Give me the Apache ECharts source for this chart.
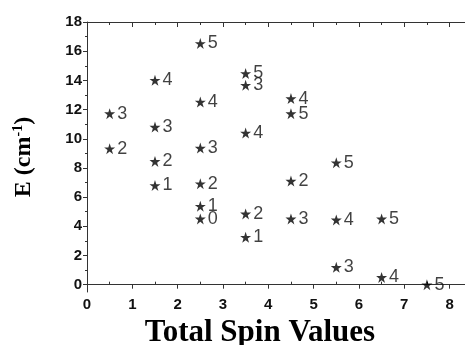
<!DOCTYPE html>
<html>
<head>
<meta charset="utf-8">
<script src="https://cdn.jsdelivr.net/npm/echarts@6/dist/echarts.min.js"></script>
<style>
  html, body { margin: 0; padding: 0; background: #fff; }
  #chart { width: 465px; height: 345px; }
</style>
</head>
<body>
<div id="chart"></div>
<script>
// total spin (x), energy in cm-1 (y), level label
let spins    = [0.5, 0.5, 1.5, 1.5, 1.5, 1.5, 2.5, 2.5, 2.5, 2.5, 2.5, 2.5, 3.5, 3.5, 3.5, 3.5, 3.5, 4.5, 4.5, 4.5, 4.5, 5.5, 5.5, 5.5, 6.5, 6.5, 7.5];
let energies = [11.72, 9.32, 14.01, 10.8, 8.45, 6.8, 16.53, 12.52, 9.36, 6.92, 5.38, 4.51, 14.47, 13.67, 10.39, 4.85, 3.25, 12.75, 11.72, 7.1, 4.51, 8.36, 4.44, 1.19, 4.51, 0.5, 0.0];
let levels   = ['3', '2', '4', '3', '2', '1', '5', '4', '3', '2', '1', '0', '5', '3', '4', '2', '1', '4', '5', '2', '3', '5', '4', '3', '5', '4', '5'];

let xMajor = [0, 1, 2, 3, 4, 5, 6, 7, 8];
let xMinor = [0.5, 1.5, 2.5, 3.5, 4.5, 5.5, 6.5, 7.5];
let yMajor = [0, 2, 4, 6, 8, 10, 12, 14, 16, 18];
let yMinor = [1, 3, 5, 7, 9, 11, 13, 15, 17];

let star = 'path://M50,0 L61.8,35.5 L99,35.5 L69,57.5 L80.4,93 L50,71 L19.6,93 L31,57.5 L1,35.5 L38.2,35.5 Z';

let points = spins.map(function(s, i){ return [s, energies[i], levels[i]]; });

let lineCol = '#333';
let xRange = {min: 0, max: 8.34};
let yRange = {min: -0.5, max: 18};

let chart = echarts.init(document.getElementById('chart'), null, {renderer: 'canvas'});

chart.setOption({
  animation: false,
  grid: {left: 87, right: 0, top: 22, bottom: 53, outerBoundsMode: 'none', containLabel: false},
  xAxis: [
    {
      type: 'value', position: 'bottom', min: xRange.min, max: xRange.max,
      name: 'Total Spin Values', nameLocation: 'middle', nameGap: 25,
      nameTextStyle: {fontFamily: 'Liberation Serif', fontWeight: 'bold', fontSize: 31, color: '#000', padding: [0, 32, 0, 0]},
      axisLine: {show: true, lineStyle: {color: lineCol, width: 1}},
      axisTick: {show: true, inside: false, length: 4, customValues: xMajor, lineStyle: {color: lineCol}},
      axisLabel: {customValues: xMajor, fontFamily: 'Liberation Sans', fontWeight: 'bold', fontSize: 15, color: '#111', margin: 5},
      splitLine: {show: false}
    },
    {
      type: 'value', position: 'bottom', min: xRange.min, max: xRange.max,
      axisLine: {show: false},
      axisTick: {show: true, inside: true, length: 3, customValues: xMinor, lineStyle: {color: lineCol}},
      axisLabel: {show: false},
      splitLine: {show: false}
    },
    {
      type: 'value', position: 'top', min: xRange.min, max: xRange.max,
      axisLine: {show: true, lineStyle: {color: lineCol, width: 1}},
      axisTick: {show: true, inside: true, length: 5, customValues: xMajor, lineStyle: {color: lineCol}},
      axisLabel: {show: false},
      splitLine: {show: false}
    },
    {
      type: 'value', position: 'top', min: xRange.min, max: xRange.max,
      axisLine: {show: false},
      axisTick: {show: true, inside: true, length: 3, customValues: xMinor, lineStyle: {color: lineCol}},
      axisLabel: {show: false},
      splitLine: {show: false}
    }
  ],
  yAxis: [
    {
      type: 'value', position: 'left', min: yRange.min, max: yRange.max,
      name: 'E (cm{sup|-1})', nameLocation: 'middle', nameGap: 50, nameRotate: 90,
      nameTextStyle: {
        fontFamily: 'Liberation Serif', fontWeight: 'bold', fontSize: 24, color: '#000',
        rich: {sup: {fontFamily: 'Liberation Serif', fontWeight: 'bold', fontSize: 14, color: '#000', verticalAlign: 'top', padding: [0, 0, 12, 0]}}
      },
      axisLine: {show: true, lineStyle: {color: lineCol, width: 1}},
      axisTick: {show: true, inside: false, length: 4, customValues: yMajor, lineStyle: {color: lineCol}},
      axisLabel: {customValues: yMajor, fontFamily: 'Liberation Sans', fontWeight: 'bold', fontSize: 15, color: '#111', margin: 5},
      splitLine: {show: false}
    },
    {
      type: 'value', position: 'left', min: yRange.min, max: yRange.max,
      axisLine: {show: false},
      axisTick: {show: true, inside: false, length: 2, customValues: yMinor, lineStyle: {color: lineCol}},
      axisLabel: {show: false},
      splitLine: {show: false}
    }
  ],
  series: [{
    type: 'scatter',
    xAxisIndex: 0, yAxisIndex: 0,
    symbol: star,
    symbolSize: 11,
    itemStyle: {color: '#000'},
    data: points,
    label: {
      show: true, position: 'right', distance: 2,
      formatter: function(p){ return p.value[2]; },
      fontFamily: 'Liberation Sans', fontSize: 18, color: '#111'
    }
  }]
});
</script>
</body>
</html>
